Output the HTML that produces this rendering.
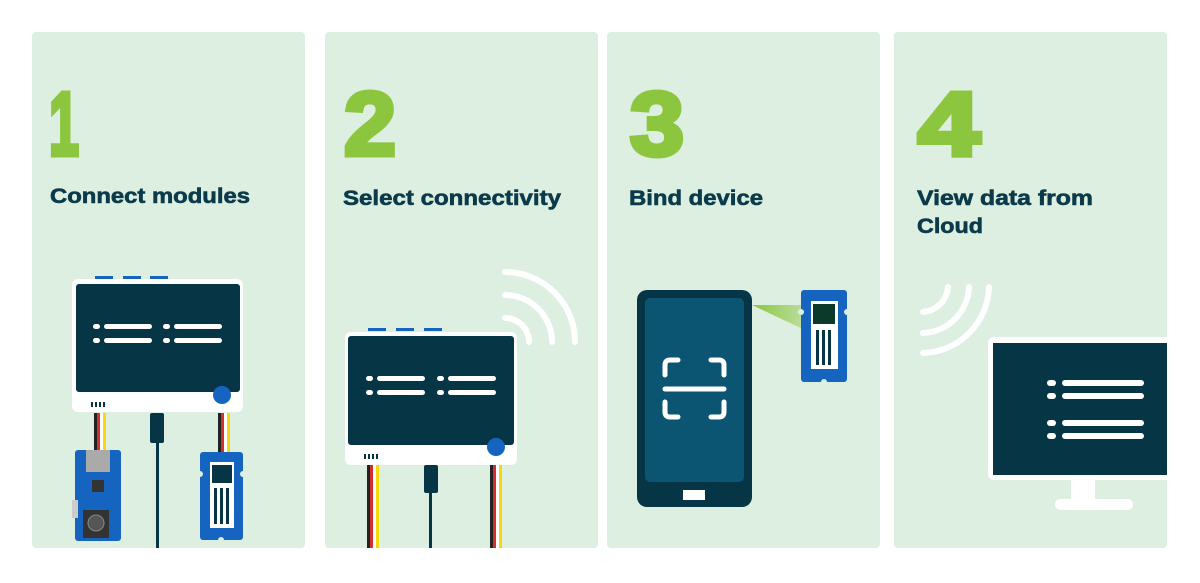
<!DOCTYPE html>
<html><head><meta charset="utf-8"><style>
body{margin:0;width:1200px;height:578px;background:#fff;overflow:hidden;font-family:"Liberation Sans",sans-serif}
</style></head><body>
<svg width="1200" height="578" viewBox="0 0 1200 578" xmlns="http://www.w3.org/2000/svg" font-family="Liberation Sans, sans-serif">
<defs>
<linearGradient id="beam" x1="0" x2="1"><stop offset="0" stop-color="#8cc63f"/><stop offset="1" stop-color="#8cc63f" stop-opacity="0.4"/></linearGradient>
</defs>
<g fill="#dcefe1">
<rect x="32" y="32" width="273" height="516" rx="4"/>
<rect x="325" y="32" width="273" height="516" rx="4"/>
<rect x="607" y="32" width="273" height="516" rx="4"/>
<rect x="894" y="32" width="273" height="516" rx="4"/>
</g>
<g fill="#8cc63f" stroke="#8cc63f" stroke-width="5" stroke-linejoin="miter" font-weight="bold" font-size="90">
<text x="49" y="155" textLength="30" lengthAdjust="spacingAndGlyphs">1</text>
<text x="344" y="155" textLength="52" lengthAdjust="spacingAndGlyphs">2</text>
<text x="630" y="155" textLength="54" lengthAdjust="spacingAndGlyphs">3</text>
<text x="918" y="155" textLength="62" lengthAdjust="spacingAndGlyphs">4</text>
</g>
<g fill="#0b3a4a" stroke="#0b3a4a" stroke-width="0.6" font-weight="bold" font-size="21" lengthAdjust="spacingAndGlyphs">
<text x="50" y="203" textLength="200" lengthAdjust="spacingAndGlyphs">Connect modules</text>
<text x="343" y="205" textLength="218" lengthAdjust="spacingAndGlyphs">Select connectivity</text>
<text x="629" y="205" textLength="134" lengthAdjust="spacingAndGlyphs">Bind device</text>
<text x="917" y="205" textLength="176" lengthAdjust="spacingAndGlyphs">View data from</text>
<text x="917" y="233" textLength="66" lengthAdjust="spacingAndGlyphs">Cloud</text>
</g>

<!-- Panel 1 device -->
<g fill="#1565c0"><rect x="95" y="276" width="18" height="3"/><rect x="123" y="276" width="18" height="3"/><rect x="150" y="276" width="18" height="3"/></g>
<rect x="72" y="279" width="171" height="133" rx="6" fill="#fff"/>
<rect x="76" y="284" width="164" height="108" rx="3" fill="#063645"/>
<g fill="#fff"><rect x="93" y="324" width="7" height="5" rx="2.5"/><rect x="104" y="324" width="48" height="5" rx="2.5"/><rect x="163" y="324" width="7" height="5" rx="2.5"/><rect x="174" y="324" width="48" height="5" rx="2.5"/>
<rect x="93" y="338" width="7" height="5" rx="2.5"/><rect x="104" y="338" width="48" height="5" rx="2.5"/><rect x="163" y="338" width="7" height="5" rx="2.5"/><rect x="174" y="338" width="48" height="5" rx="2.5"/></g>
<circle cx="222" cy="395" r="9" fill="#1565c0"/>
<g fill="#063645"><rect x="91" y="402" width="2" height="5"/><rect x="95" y="402" width="2" height="5"/><rect x="99" y="402" width="2" height="5"/><rect x="103" y="402" width="2" height="5"/></g>
<rect x="94" y="413" width="3" height="40" fill="#222"/><rect x="97" y="413" width="3" height="40" fill="#d32f2f"/><rect x="100" y="413" width="3" height="40" fill="#fff"/><rect x="103" y="413" width="3" height="40" fill="#f5d90a"/>
<rect x="218" y="413" width="3" height="40" fill="#222"/><rect x="221" y="413" width="3" height="40" fill="#d32f2f"/><rect x="224" y="413" width="3" height="40" fill="#fff"/><rect x="227" y="413" width="3" height="40" fill="#f5d90a"/>
<rect x="150" y="413" width="14" height="30" rx="2" fill="#063645"/><rect x="156" y="443" width="3" height="105" fill="#063645"/>
<rect x="75" y="450" width="46" height="91" rx="3" fill="#1565c0"/>
<rect x="86" y="450" width="24" height="22" fill="#aaa"/>
<rect x="92" y="480" width="12" height="12" fill="#333"/>
<rect x="83" y="510" width="26" height="28" fill="#333"/><circle cx="96" cy="523" r="8" fill="#555" stroke="#888"/>
<rect x="72" y="500" width="6" height="18" fill="#ccc"/>
<rect x="200" y="452" width="43" height="88" rx="3" fill="#1565c0"/>
<circle cx="200" cy="474" r="3" fill="#dcefe1"/><circle cx="243" cy="474" r="3" fill="#dcefe1"/><circle cx="221" cy="540" r="3" fill="#dcefe1"/>
<rect x="210" y="462" width="24" height="66" fill="#fff"/>
<rect x="212" y="465" width="20" height="18" fill="#063645"/>
<g fill="#063645"><rect x="214" y="488" width="3" height="36"/><rect x="220" y="488" width="3" height="36"/><rect x="226" y="488" width="3" height="36"/></g>

<!-- Panel 2 device -->
<g fill="none" stroke="#fff" stroke-width="6" stroke-linecap="round">
<path d="M505 318 A24 24 0 0 1 529 342"/><path d="M505 295 A47 47 0 0 1 552 342"/><path d="M505 272 A70 70 0 0 1 575 342"/>
</g>
<g fill="#1565c0"><rect x="368" y="328" width="18" height="3"/><rect x="396" y="328" width="18" height="3"/><rect x="424" y="328" width="18" height="3"/></g>
<rect x="345" y="332" width="172" height="133" rx="6" fill="#fff"/>
<rect x="348" y="336" width="166" height="109" rx="3" fill="#063645"/>
<g fill="#fff"><rect x="366" y="376" width="7" height="5" rx="2.5"/><rect x="377" y="376" width="48" height="5" rx="2.5"/><rect x="437" y="376" width="7" height="5" rx="2.5"/><rect x="448" y="376" width="48" height="5" rx="2.5"/>
<rect x="366" y="390" width="7" height="5" rx="2.5"/><rect x="377" y="390" width="48" height="5" rx="2.5"/><rect x="437" y="390" width="7" height="5" rx="2.5"/><rect x="448" y="390" width="48" height="5" rx="2.5"/></g>
<circle cx="496" cy="447" r="9" fill="#1565c0"/>
<g fill="#063645"><rect x="364" y="454" width="2" height="5"/><rect x="368" y="454" width="2" height="5"/><rect x="372" y="454" width="2" height="5"/><rect x="376" y="454" width="2" height="5"/></g>
<rect x="367" y="465" width="3" height="83" fill="#222"/><rect x="370" y="465" width="3" height="83" fill="#d32f2f"/><rect x="373" y="465" width="3" height="83" fill="#fff"/><rect x="376" y="465" width="3" height="83" fill="#f5d90a"/>
<rect x="490" y="465" width="3" height="83" fill="#222"/><rect x="493" y="465" width="3" height="83" fill="#d32f2f"/><rect x="496" y="465" width="3" height="83" fill="#fff"/><rect x="499" y="465" width="3" height="83" fill="#f5d90a"/>
<rect x="424" y="465" width="14" height="28" rx="2" fill="#063645"/><rect x="429" y="493" width="3" height="55" fill="#063645"/>

<!-- Panel 3 -->
<polygon points="752,305 805,305 805,330" fill="url(#beam)"/>
<rect x="637" y="290" width="115" height="217" rx="10" fill="#063645"/>
<rect x="645" y="298" width="99" height="184" rx="5" fill="#0b5572"/>
<rect x="683" y="490" width="22" height="10" fill="#fff"/>
<g fill="none" stroke="#fff" stroke-width="5" stroke-linecap="round">
<path d="M665 375 V365 Q665 360 670 360 H678"/><path d="M711 360 H719 Q724 360 724 365 V375"/>
<path d="M665 402 V412 Q665 417 670 417 H678"/><path d="M711 417 H719 Q724 417 724 412 V402"/>
<path d="M665 389 H724"/>
</g>
<rect x="801" y="290" width="46" height="92" rx="3" fill="#1565c0"/>
<circle cx="801" cy="312" r="3" fill="#dcefe1"/><circle cx="847" cy="312" r="3" fill="#dcefe1"/><circle cx="824" cy="382" r="3" fill="#dcefe1"/>
<rect x="811" y="301" width="27" height="68" fill="#fff"/>
<rect x="813" y="304" width="22" height="20" fill="#0b3a2a"/>
<g fill="#063645"><rect x="816" y="330" width="3" height="35"/><rect x="822" y="330" width="3" height="35"/><rect x="828" y="330" width="3" height="35"/></g>

<!-- Panel 4 -->
<g fill="none" stroke="#fff" stroke-width="6" stroke-linecap="round">
<path d="M948 287 A27 27 0 0 1 923 312"/><path d="M969 287 A48 48 0 0 1 923 333"/><path d="M989 287 A68 68 0 0 1 923 353"/>
</g>
<rect x="988" y="337" width="190" height="143" rx="6" fill="#fff"/>
<rect x="993" y="343" width="190" height="132" fill="#063645"/>
<rect x="1071" y="480" width="24" height="22" fill="#fff"/>
<rect x="1055" y="499" width="78" height="11" rx="5" fill="#fff"/>
<g fill="#fff"><rect x="1047" y="380" width="9" height="6" rx="3"/><rect x="1062" y="380" width="82" height="6" rx="3"/>
<rect x="1047" y="393" width="9" height="6" rx="3"/><rect x="1062" y="393" width="82" height="6" rx="3"/>
<rect x="1047" y="420" width="9" height="6" rx="3"/><rect x="1062" y="420" width="82" height="6" rx="3"/>
<rect x="1047" y="433" width="9" height="6" rx="3"/><rect x="1062" y="433" width="82" height="6" rx="3"/></g>
<rect x="1167" y="330" width="33" height="200" fill="#fff"/>
</svg>
</body></html>
